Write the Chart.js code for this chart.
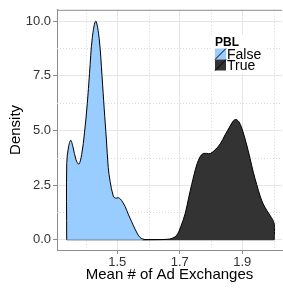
<!DOCTYPE html>
<html>
<head>
<meta charset="utf-8">
<script src="https://cdn.jsdelivr.net/npm/chart.js@4.4.0/dist/chart.umd.min.js"></script>
<style>
  html, body { margin: 0; padding: 0; background: #fff; }
  #wrap { width: 283px; height: 288px; }
</style>
</head>
<body>
<div id="wrap"><canvas id="chart" width="283" height="288"></canvas></div>
<script>
// Dichte der Gruppen
const groups = ['False', 'True'];
const xFalse = [1.338, 1.3381, 1.344, 1.351, 1.358, 1.368, 1.377, 1.386, 1.395, 1.404, 1.411, 1.420, 1.431,
  1.442, 1.451, 1.458, 1.465, 1.471, 1.477, 1.487, 1.494, 1.503, 1.510, 1.518, 1.525, 1.535, 1.546, 1.558, 1.573, 1.589];
const yFalse = [0, 3.49, 4.25, 4.55, 4.25, 3.65, 3.46, 3.9, 4.9, 6.24, 7.6, 9.25, 10.0,
  9.2, 7.5, 6.0, 4.6, 3.3, 2.67, 2.0, 1.9, 1.92, 1.86, 1.7, 1.52, 1.17, 0.82, 0.45, 0.1, 0];
const xTrue = [1.58, 1.63, 1.66, 1.675, 1.690, 1.703, 1.717, 1.728, 1.738, 1.746, 1.754, 1.765, 1.775, 1.786,
  1.797, 1.812, 1.829, 1.845, 1.861, 1.872, 1.880, 1.889, 1.898, 1.912, 1.925, 1.935, 1.946, 1.957, 1.967,
  1.978, 1.989, 2.002, 2.0021];
const yTrue = [0, 0.005, 0.02, 0.06, 0.2, 0.6, 1.19, 1.9, 2.53, 3.0, 3.42, 3.8, 3.94, 3.95,
  3.94, 4.1, 4.38, 4.8, 5.2, 5.45, 5.5, 5.4, 5.12, 4.45, 3.71, 3.1, 2.53, 2.0, 1.63,
  1.35, 1.11, 0.74, 0];
const xTicks = [1.5, 1.7, 1.9];
const xMinor = [1.4, 1.6, 1.8, 2.0];
const yTicks = [0, 2.5, 5, 7.5, 10];
const yMinor = [1.25, 3.75, 6.25, 8.75];

const fills = ['#99ccff', '#333333'];
const FONT = '"Liberation Sans", Arial, Helvetica, sans-serif';

function toPoints(xs, ys) {
  return xs.map((x, i) => ({ x: x, y: ys[i] }));
}

// Nebengitter, Rahmen oben, Legende
const panelPlugin = {
  id: 'panel',
  beforeDatasetsDraw(chart) {
    const { ctx, chartArea: a, scales: { x, y } } = chart;
    ctx.save();
    ctx.strokeStyle = '#d9d9d9';
    ctx.lineWidth = 1;
    ctx.setLineDash([1, 2]);
    xMinor.forEach(v => {
      const px = Math.round(x.getPixelForValue(v)) + 0.5;
      ctx.beginPath(); ctx.moveTo(px, a.top); ctx.lineTo(px, a.bottom); ctx.stroke();
    });
    yMinor.forEach(v => {
      const py = Math.round(y.getPixelForValue(v)) + 0.5;
      ctx.beginPath(); ctx.moveTo(a.left, py); ctx.lineTo(a.right, py); ctx.stroke();
    });
    ctx.restore();
  },
  afterDraw(chart) {
    const { ctx, chartArea: a } = chart;
    ctx.save();
    ctx.strokeStyle = '#8c8c8c';
    ctx.lineWidth = 1;
    ctx.beginPath(); ctx.moveTo(a.left, a.top + 0.5); ctx.lineTo(a.right, a.top + 0.5); ctx.stroke();

    const lx = 215, ly = 36;
    ctx.fillStyle = '#fff';
    ctx.fillRect(lx - 4, ly - 1, 56, 38);
    ctx.fillStyle = '#000';
    ctx.textBaseline = 'alphabetic';
    ctx.textAlign = 'left';
    ctx.font = 'bold 12px ' + FONT;
    ctx.fillText('PBL', lx, ly + 10);
    ctx.font = '14px ' + FONT;
    groups.forEach((g, i) => {
      const ky = ly + 12.5 + i * 11;
      ctx.fillStyle = fills[i];
      ctx.fillRect(lx, ky, 11, 11);
      ctx.strokeStyle = '#000';
      ctx.setLineDash([]);
      ctx.beginPath(); ctx.moveTo(lx, ky + 11); ctx.lineTo(lx + 11, ky); ctx.stroke();
      ctx.fillStyle = '#000';
      ctx.fillText(g, lx + 12, ky + 10.5);
    });
    ctx.restore();
  }
};

function densitySet(i, xs, ys) {
  return {
    label: groups[i],
    data: toPoints(xs, ys),
    backgroundColor: fills[i],
    borderColor: '#000',
    borderWidth: 1,
    fill: 'origin',
    tension: 0.35,
    pointRadius: 0
  };
}

new Chart(document.getElementById('chart'), {
  type: 'line',
  data: {
    datasets: [
      densitySet(0, xFalse, yFalse),
      densitySet(1, xTrue, yTrue),
      {
        label: 'base',
        data: toPoints([xFalse[0], xTrue[xTrue.length - 1]], [0, 0]),
        borderColor: '#000',
        borderWidth: 1,
        fill: false,
        pointRadius: 0
      }
    ]
  },
  options: {
    responsive: false,
    animation: false,
    layout: { padding: { top: 4, right: 1, left: 0, bottom: 0 } },
    plugins: { legend: { display: false }, tooltip: { enabled: false } },
    scales: {
      x: {
        type: 'linear',
        min: 1.307,
        max: 2.027,
        afterBuildTicks: s => { s.ticks = xTicks.map(v => ({ value: v })); },
        afterFit: s => { s.height = 38; },
        grid: { color: '#e6e6e6', tickColor: '#8c8c8c', tickLength: 4 },
        border: { color: '#8c8c8c' },
        ticks: {
          autoSkip: false, maxRotation: 0, padding: 1,
          color: '#333', font: { family: FONT, size: 13 },
          callback: v => v.toFixed(1)
        },
        title: {
          display: true, text: 'Mean # of Ad Exchanges', color: '#000',
          font: { family: FONT, size: 15 }, padding: { top: 0, bottom: 4 }
        }
      },
      y: {
        type: 'linear',
        min: -0.47,
        max: 10.52,
        afterBuildTicks: s => { s.ticks = yTicks.map(v => ({ value: v })); },
        afterFit: s => { s.width = 57; },
        grid: { color: '#e6e6e6', tickColor: '#8c8c8c', tickLength: 4 },
        border: { color: '#8c8c8c' },
        ticks: {
          padding: 2,
          color: '#333', font: { family: FONT, size: 13 },
          callback: v => v.toFixed(1)
        },
        title: {
          display: true, text: 'Density', color: '#000',
          font: { family: FONT, size: 15 }, padding: { top: 7, bottom: 0 }
        }
      }
    }
  },
  plugins: [panelPlugin]
});
</script>
</body>
</html>
